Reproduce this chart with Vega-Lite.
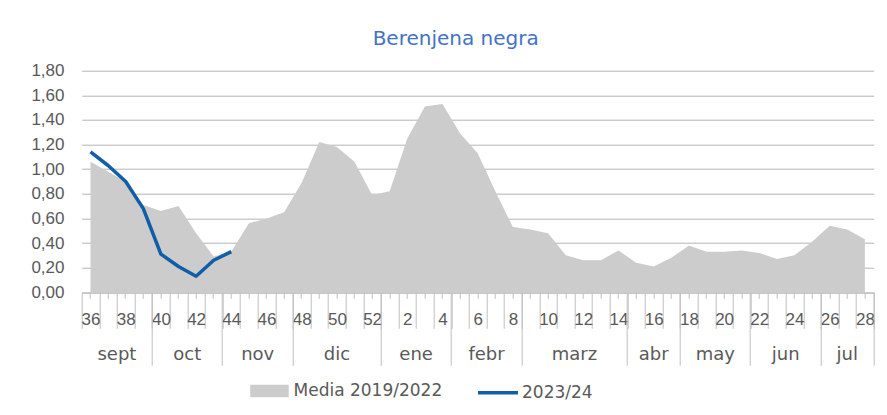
{
  "$schema": "https://vega.github.io/schema/vega-lite/v6.json",
  "width": 792,
  "height": 221.6,
  "autosize": {"type": "none"},
  "padding": {"left": 81.7, "top": 70.7, "right": 13.3, "bottom": 122.7},
  "background": "white",
  "title": {"text": "Berenjena negra", "font": "DejaVu Sans", "fontSize": 20, "fontWeight": "normal", "color": "#4472C4", "anchor": "middle", "frame": "group", "dx": -22, "offset": -3, "baseline": "alphabetic"},
  "config": {
    "view": {"stroke": null},
    "axis": {"domain": false, "grid": false, "title": null, "ticks": true, "tickColor": "#BFBFBF", "tickWidth": 1, "labelAngle": 0, "labelOverlap": false, "labelBound": false, "labelFlush": false, "labelColor": "#595959", "labelFont": "Liberation Sans", "labelFontSize": 17}
  },
  "data": {"values": [
    {"semana": 36, "serie": "Media 2019/2022", "valor": 1.06},
    {"semana": 37, "serie": "Media 2019/2022", "valor": 0.98},
    {"semana": 38, "serie": "Media 2019/2022", "valor": 0.90},
    {"semana": 39, "serie": "Media 2019/2022", "valor": 0.71},
    {"semana": 40, "serie": "Media 2019/2022", "valor": 0.66},
    {"semana": 41, "serie": "Media 2019/2022", "valor": 0.70},
    {"semana": 42, "serie": "Media 2019/2022", "valor": 0.48},
    {"semana": 43, "serie": "Media 2019/2022", "valor": 0.29},
    {"semana": 44, "serie": "Media 2019/2022", "valor": 0.33},
    {"semana": 45, "serie": "Media 2019/2022", "valor": 0.56},
    {"semana": 46, "serie": "Media 2019/2022", "valor": 0.60},
    {"semana": 47, "serie": "Media 2019/2022", "valor": 0.65},
    {"semana": 48, "serie": "Media 2019/2022", "valor": 0.89},
    {"semana": 49, "serie": "Media 2019/2022", "valor": 1.22},
    {"semana": 50, "serie": "Media 2019/2022", "valor": 1.18},
    {"semana": 51, "serie": "Media 2019/2022", "valor": 1.06},
    {"semana": 52, "serie": "Media 2019/2022", "valor": 0.79},
    {"semana": 1, "serie": "Media 2019/2022", "valor": 0.82},
    {"semana": 2, "serie": "Media 2019/2022", "valor": 1.25},
    {"semana": 3, "serie": "Media 2019/2022", "valor": 1.51},
    {"semana": 4, "serie": "Media 2019/2022", "valor": 1.53},
    {"semana": 5, "serie": "Media 2019/2022", "valor": 1.29},
    {"semana": 6, "serie": "Media 2019/2022", "valor": 1.13},
    {"semana": 7, "serie": "Media 2019/2022", "valor": 0.82},
    {"semana": 8, "serie": "Media 2019/2022", "valor": 0.53},
    {"semana": 9, "serie": "Media 2019/2022", "valor": 0.51},
    {"semana": 10, "serie": "Media 2019/2022", "valor": 0.48},
    {"semana": 11, "serie": "Media 2019/2022", "valor": 0.30},
    {"semana": 12, "serie": "Media 2019/2022", "valor": 0.26},
    {"semana": 13, "serie": "Media 2019/2022", "valor": 0.26},
    {"semana": 14, "serie": "Media 2019/2022", "valor": 0.34},
    {"semana": 15, "serie": "Media 2019/2022", "valor": 0.24},
    {"semana": 16, "serie": "Media 2019/2022", "valor": 0.21},
    {"semana": 17, "serie": "Media 2019/2022", "valor": 0.28},
    {"semana": 18, "serie": "Media 2019/2022", "valor": 0.38},
    {"semana": 19, "serie": "Media 2019/2022", "valor": 0.33},
    {"semana": 20, "serie": "Media 2019/2022", "valor": 0.33},
    {"semana": 21, "serie": "Media 2019/2022", "valor": 0.34},
    {"semana": 22, "serie": "Media 2019/2022", "valor": 0.32},
    {"semana": 23, "serie": "Media 2019/2022", "valor": 0.27},
    {"semana": 24, "serie": "Media 2019/2022", "valor": 0.30},
    {"semana": 25, "serie": "Media 2019/2022", "valor": 0.41},
    {"semana": 26, "serie": "Media 2019/2022", "valor": 0.54},
    {"semana": 27, "serie": "Media 2019/2022", "valor": 0.51},
    {"semana": 28, "serie": "Media 2019/2022", "valor": 0.43},
    {"semana": 36, "serie": "2023/24", "valor": 1.14},
    {"semana": 37, "serie": "2023/24", "valor": 1.03},
    {"semana": 38, "serie": "2023/24", "valor": 0.90},
    {"semana": 39, "serie": "2023/24", "valor": 0.68},
    {"semana": 40, "serie": "2023/24", "valor": 0.31},
    {"semana": 41, "serie": "2023/24", "valor": 0.21},
    {"semana": 42, "serie": "2023/24", "valor": 0.13},
    {"semana": 43, "serie": "2023/24", "valor": 0.26},
    {"semana": 44, "serie": "2023/24", "valor": 0.33}
  ]},
  "resolve": {"axis": {"x": "independent", "y": "independent"}},
  "layer": [
    {
      "transform": [{"filter": "datum.serie === 'Media 2019/2022'"}],
      "mark": {"type": "area", "opacity": 1},
      "encoding": {
        "x": {"field": "semana", "type": "ordinal", "bandPosition": 0.5,
          "scale": {"type": "band", "domain": [36,37,38,39,40,41,42,43,44,45,46,47,48,49,50,51,52,1,2,3,4,5,6,7,8,9,10,11,12,13,14,15,16,17,18,19,20,21,22,23,24,25,26,27,28], "paddingInner": 0, "paddingOuter": 0},
          "axis": {"orient": "bottom", "domain": true, "domainColor": "#BFBFBF", "domainWidth": 1, "ticks": true, "tickBand": "center", "tickSize": 6, "labels": false}},
        "y": {"field": "valor", "type": "quantitative", "scale": {"domain": [0, 1.8], "nice": false},
          "axis": {"values": [0, 0.2, 0.4, 0.6, 0.8, 1, 1.2, 1.4, 1.6, 1.8], "labelExpr": "replace(format(datum.value, '.2f'), '.', ',')", "ticks": false, "grid": true, "gridColor": "#B4B4B4", "gridWidth": 1, "labelPadding": 17.7}},
        "color": {"field": "serie", "type": "nominal",
          "scale": {"domain": ["Media 2019/2022", "2023/24"], "range": ["#CCCCCC", "#115EA8"]},
          "legend": {"orient": "none", "legendX": 165.8, "legendY": 298, "direction": "horizontal", "title": null, "symbolSize": 1600, "symbolStrokeWidth": 3, "labelOffset": 2, "columnPadding": 28.5, "labelFont": "DejaVu Sans", "labelFontSize": 17, "labelColor": "#595959",
            "encode": {"symbols": {"update": {
              "shape": {"signal": "datum.value === '2023/24' ? 'M-1,0H1' : 'M-0.875,-0.22H0.875V0.22H-0.875Z'"},
              "size": {"value": 1600},
              "fill": {"signal": "datum.value === '2023/24' ? 'transparent' : '#CCCCCC'"},
              "stroke": {"signal": "datum.value === '2023/24' ? '#115EA8' : 'transparent'"},
              "strokeWidth": {"value": 3.5},
              "opacity": {"value": 1}}}}}}
      }
    },
    {
      "transform": [{"filter": "datum.serie === '2023/24'"}],
      "mark": {"type": "line", "strokeWidth": 3.5, "strokeJoin": "round"},
      "encoding": {
        "x": {"field": "semana", "type": "ordinal", "bandPosition": 0.5,
          "scale": {"type": "band", "paddingInner": 0, "paddingOuter": 0},
          "axis": {"orient": "bottom", "ticks": true, "tickBand": "extent", "tickSize": 36, "labelPadding": -4, "labelBaseline": "alphabetic", "labelExpr": "datum.value % 2 === 0 ? datum.label : ''"}},
        "y": {"field": "valor", "type": "quantitative", "axis": null},
        "color": {"field": "serie", "type": "nominal",
          "legend": {"orient": "none", "legendX": 165.8, "legendY": 298, "direction": "horizontal", "title": null, "symbolSize": 1600, "symbolStrokeWidth": 3, "labelOffset": 2, "columnPadding": 28.5, "labelFont": "DejaVu Sans", "labelFontSize": 17, "labelColor": "#595959",
            "encode": {"symbols": {"update": {
              "shape": {"signal": "datum.value === '2023/24' ? 'M-1,0H1' : 'M-0.875,-0.22H0.875V0.22H-0.875Z'"},
              "size": {"value": 1600},
              "fill": {"signal": "datum.value === '2023/24' ? 'transparent' : '#CCCCCC'"},
              "stroke": {"signal": "datum.value === '2023/24' ? '#115EA8' : 'transparent'"},
              "strokeWidth": {"value": 3.5},
              "opacity": {"value": 1}}}}}}
      }
    },
    {
      "mark": {"type": "point", "opacity": 0},
      "encoding": {
        "x": {"field": "semana", "type": "ordinal", "scale": {"type": "band", "paddingInner": 0, "paddingOuter": 0},
          "axis": {"orient": "bottom", "values": [36, 40, 44, 48, 1, 5, 9, 15, 18, 22, 26], "ticks": true, "bandPosition": 0, "tickSize": 73, "labels": false}}
      }
    },
    {
      "mark": {"type": "point", "opacity": 0},
      "encoding": {
        "x": {"field": "semana", "type": "ordinal", "scale": {"type": "band", "paddingInner": 0, "paddingOuter": 0},
          "axis": {"orient": "bottom", "values": [28], "ticks": true, "bandPosition": 1, "tickSize": 73, "labels": false}}
      }
    },
    {
      "mark": {"type": "point", "opacity": 0},
      "encoding": {
        "x": {"field": "semana", "type": "ordinal", "scale": {"type": "band", "paddingInner": 0, "paddingOuter": 0},
          "axis": {"orient": "bottom", "values": [37, 41, 45, 2, 6, 11, 19, 23], "ticks": false, "tickSize": 0, "labelOffset": 8.8, "labelPadding": 67, "labelBaseline": "alphabetic", "labelFont": "DejaVu Sans", "labelFontSize": 18,
            "labelExpr": "datum.value === 37 ? 'sept' : datum.value === 41 ? 'oct' : datum.value === 45 ? 'nov' : datum.value === 2 ? 'ene' : datum.value === 6 ? 'febr' : datum.value === 11 ? 'marz' : datum.value === 19 ? 'may' : 'jun'"}}
      }
    },
    {
      "mark": {"type": "point", "opacity": 0},
      "encoding": {
        "x": {"field": "semana", "type": "ordinal", "scale": {"type": "band", "paddingInner": 0, "paddingOuter": 0},
          "axis": {"orient": "bottom", "values": [50, 16, 27], "ticks": false, "tickSize": 0, "labelOffset": 0, "labelPadding": 67, "labelBaseline": "alphabetic", "labelFont": "DejaVu Sans", "labelFontSize": 18,
            "labelExpr": "datum.value === 50 ? 'dic' : datum.value === 16 ? 'abr' : 'jul'"}}
      }
    }
  ]
}
